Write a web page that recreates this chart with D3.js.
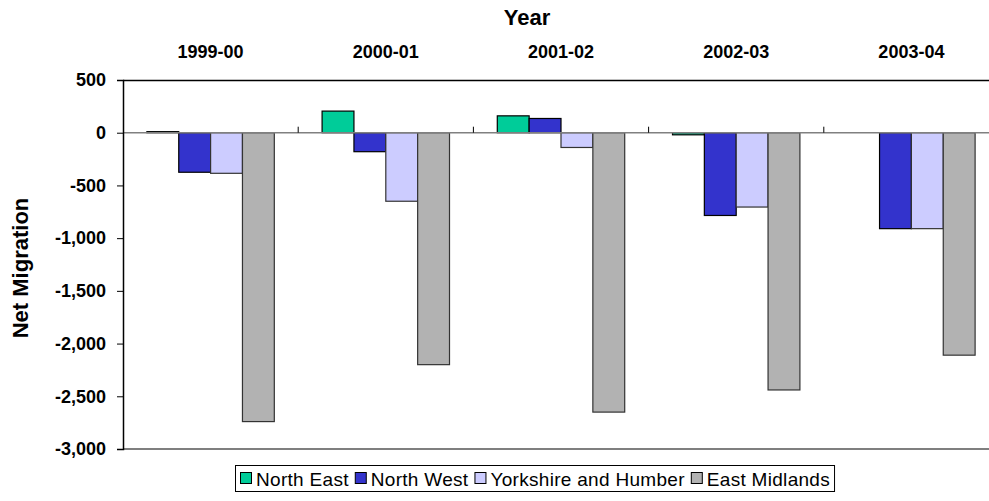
<!DOCTYPE html>
<html><head><meta charset="utf-8">
<script src="https://cdn.jsdelivr.net/npm/d3@7"></script>
<style>body{margin:0;background:#fff}svg{display:block}text{font-family:Arial,"Liberation Sans",sans-serif}</style>
</head><body><svg id="c" width="989" height="501"></svg>
<script>
const categories = ["1999-00","2000-01","2001-02","2002-03","2003-04"];
const seriesNames = ["North East","North West","Yorkshire and Humber","East Midlands"];
const northEast = [10, 205, 160, -20, 0];
const northWest = [-375, -180, 135, -785, -910];
const yorkshire = [-385, -650, -140, -705, -910];
const eastMidlands = [-2740, -2200, -2650, -2440, -2110];
const yTicks = [500, 0, -500, -1000, -1500, -2000, -2500, -3000];
const colors = ["#00CC99","#3333CC","#CCCCFF","#B2B2B2"];
const strokes = ["#000","#000","#333","#333"];
const series = [northEast, northWest, yorkshire, eastMidlands];

const svg = d3.select("#c");
const L = 123, R = 999, T = 80, B = 449;
const x0 = d3.scaleBand().domain(categories).range([L, R]).paddingInner(0).paddingOuter(0);
const bw = x0.bandwidth() / 5.5;
const y = d3.scaleLinear().domain([500, -3000]).range([T, B]);
const fmt = d3.format(",");

// plot borders top & bottom
svg.append("line").attr("x1", L).attr("x2", R).attr("y1", T+0.5).attr("y2", T+0.5).attr("stroke", "#000").attr("stroke-width", 1.5);
svg.append("line").attr("x1", L).attr("x2", R).attr("y1", B).attr("y2", B).attr("stroke", "#555").attr("stroke-width", 1.5);

// bars
series.forEach((vals, si) => {
  svg.append("g").selectAll("rect").data(vals.map((v,i)=>({v, c: categories[i]}))).join("rect")
    .filter(d => d.v !== 0)
    .attr("x", d => x0(d.c) + 0.75*bw + si*bw)
    .attr("width", bw)
    .attr("y", d => Math.min(y(d.v), y(0)))
    .attr("height", d => Math.abs(y(d.v) - y(0)))
    .attr("fill", colors[si])
    .attr("stroke", strokes[si])
    .attr("stroke-width", 1.2);
});

// zero line
svg.append("line").attr("x1", L).attr("x2", R).attr("y1", y(0)).attr("y2", y(0)).attr("stroke", "#808080").attr("stroke-width", 1.5);
// category ticks (upward from zero line)
svg.append("g").selectAll("line").data(categories.slice(1)).join("line")
  .attr("x1", d => x0(d)).attr("x2", d => x0(d))
  .attr("y1", y(0) - 6).attr("y2", y(0)).attr("stroke", "#000").attr("stroke-width", 1);

// y axis
const yAxis = d3.axisLeft(y).tickValues(yTicks).tickSize(6).tickPadding(11).tickFormat(d => fmt(d).replace("\u2212", "-"));
const gy = svg.append("g").attr("transform", `translate(${L},0)`).call(yAxis);
gy.select(".domain").attr("stroke", "#000").attr("stroke-width", 1.5);
gy.selectAll(".tick line").attr("stroke", "#000");
gy.selectAll("text").attr("font-size", 18).attr("font-weight", "bold").attr("fill", "#000");

// category labels on top
const xAxis = d3.axisTop(x0).tickSize(0).tickPadding(0);
const gx = svg.append("g").attr("transform", `translate(0,58)`).call(xAxis);
gx.select(".domain").remove();
gx.selectAll("text").attr("font-size", 18).attr("font-weight", "bold").attr("fill", "#000");

// titles
svg.append("text").attr("x", 527).attr("y", 25).attr("text-anchor", "middle").attr("font-size", 22).attr("font-weight", "bold").text("Year");
svg.append("text").attr("transform", "translate(28,268) rotate(-90)").attr("text-anchor", "middle").attr("font-size", 22).attr("font-weight", "bold").text("Net Migration");

// legend
const lg = svg.append("g");
const box = lg.append("rect").attr("y", 465.5).attr("height", 26).attr("fill", "#fff").attr("stroke", "#000");
let lx = 240;
seriesNames.forEach((n, i) => {
  lg.append("rect").attr("x", lx + 0.5).attr("y", 472.5).attr("width", 11).attr("height", 11).attr("fill", colors[i]).attr("stroke", "#000");
  const t = lg.append("text").attr("x", lx + 16).attr("y", 485.5).attr("font-size", 19).attr("letter-spacing", 0.3).text(n);
  lx += 16 + t.node().getComputedTextLength() + 6;
});
box.attr("x", 235.5).attr("width", lx - 237);
</script></body></html>
